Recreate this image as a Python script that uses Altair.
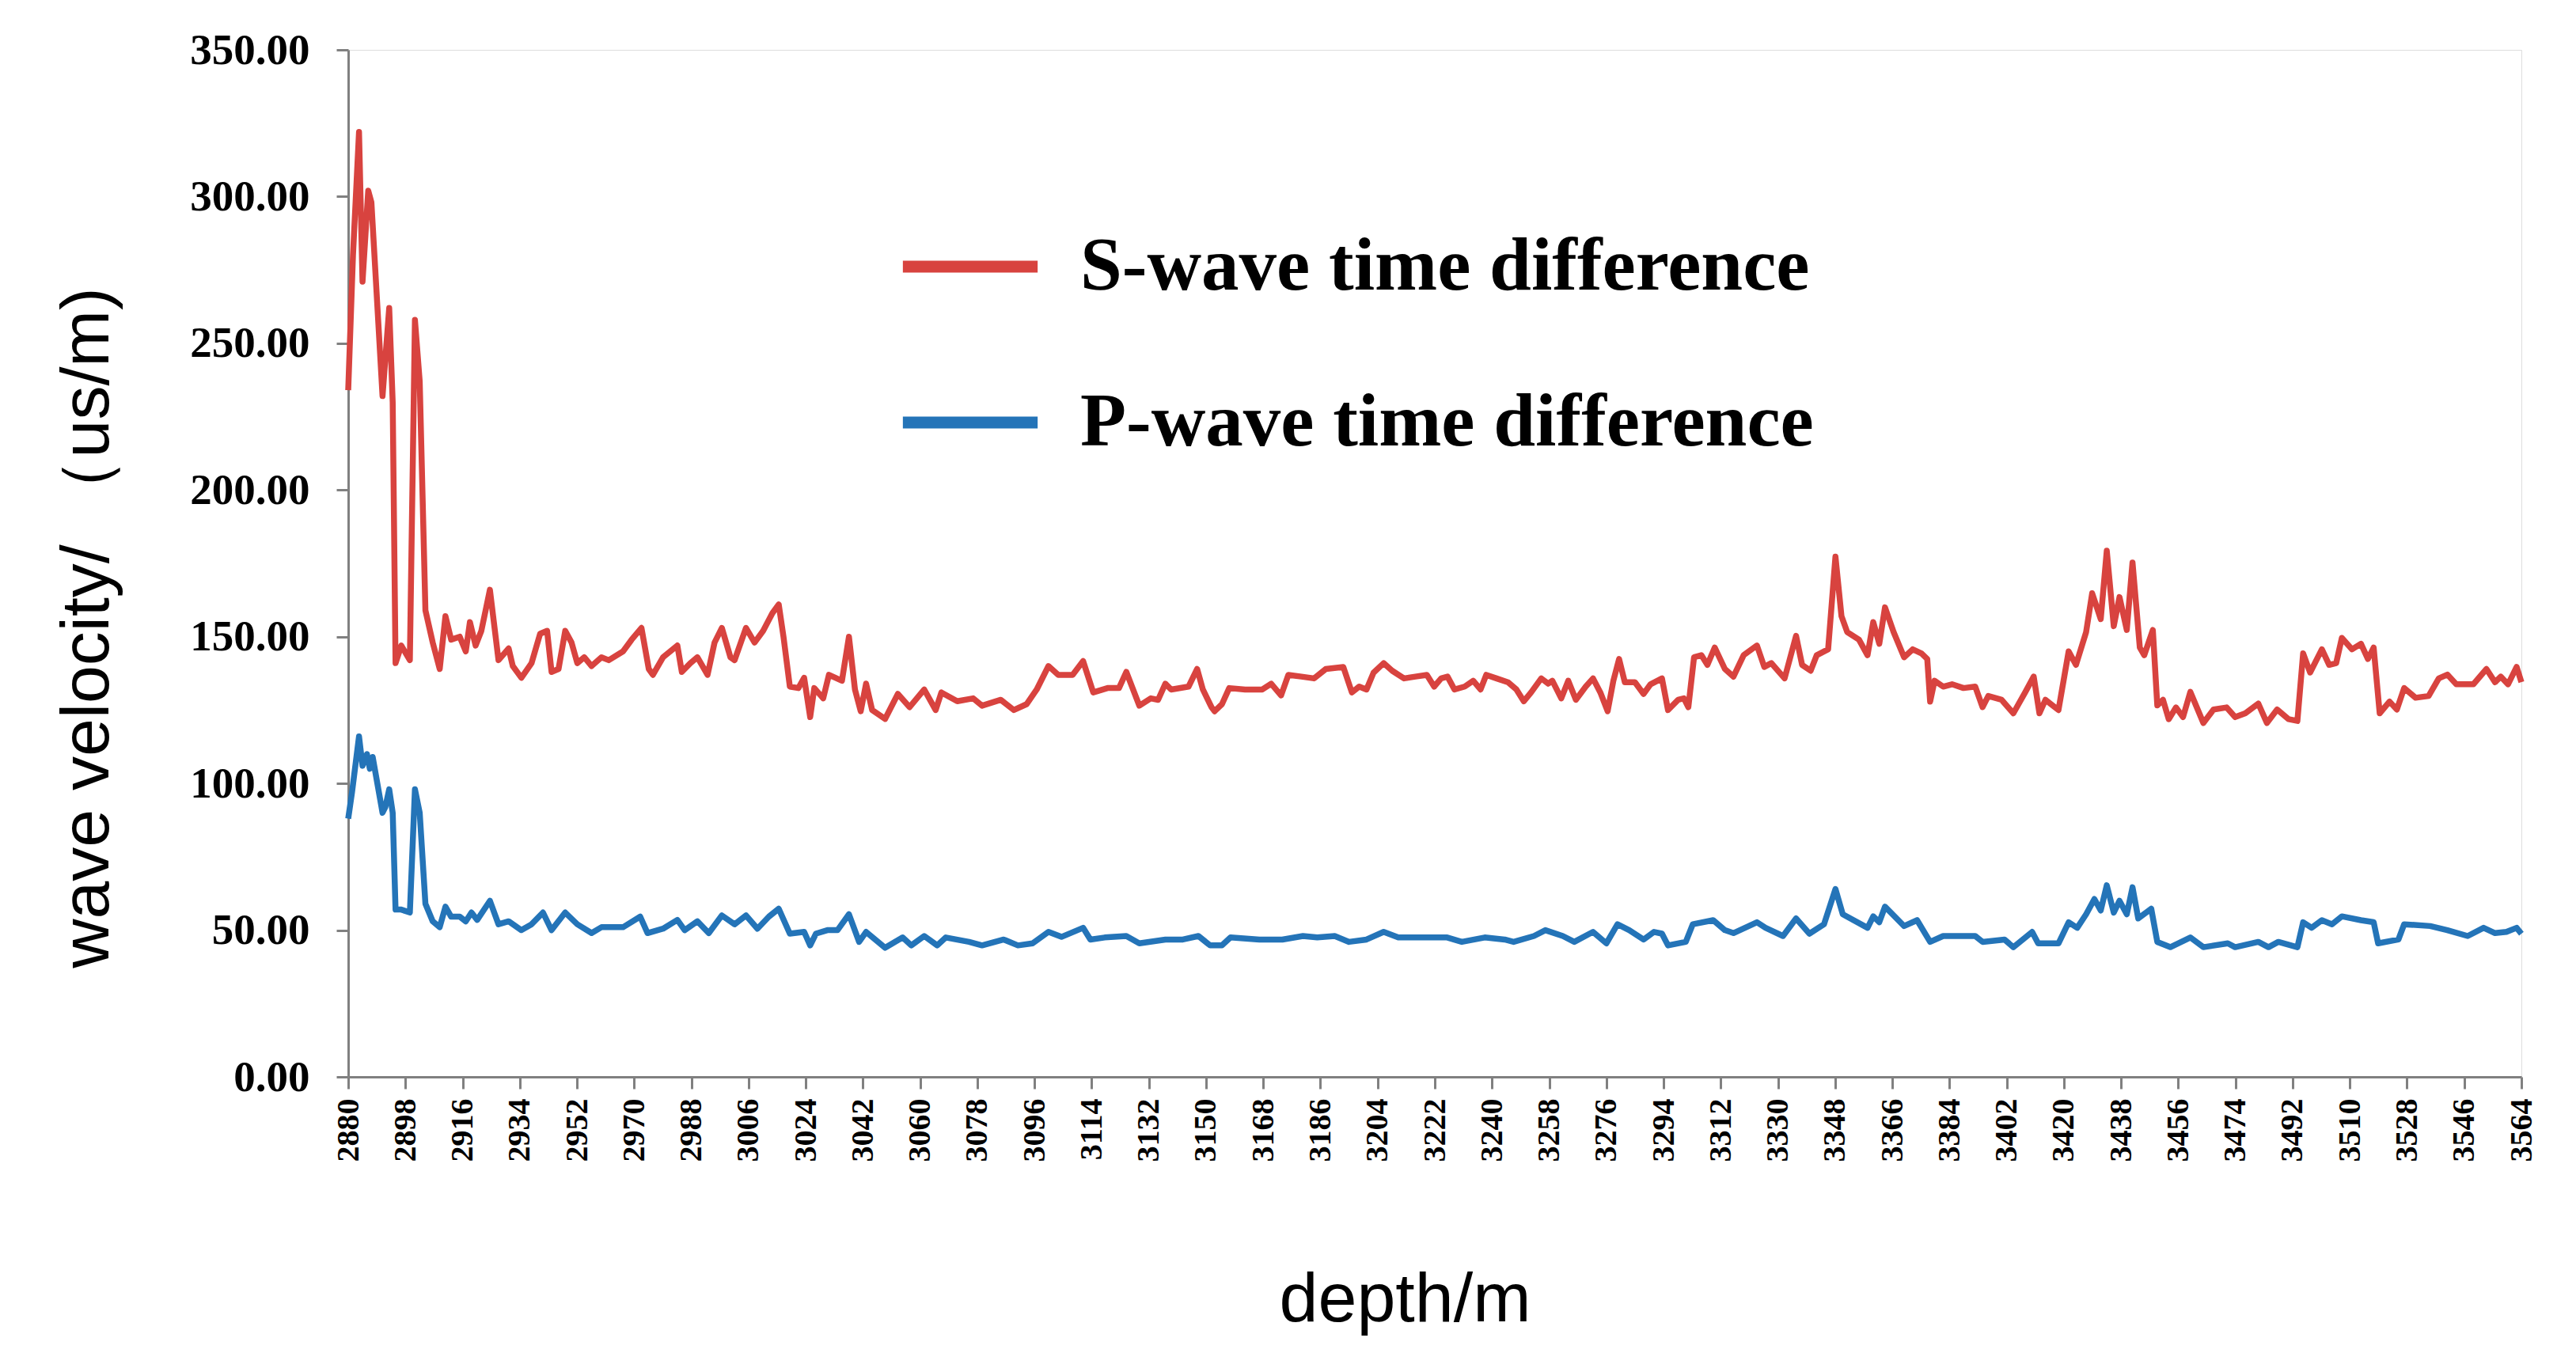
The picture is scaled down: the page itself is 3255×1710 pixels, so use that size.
import altair as alt
import pandas as pd

# S-wave time difference (us/m)
s_depth = [
    2880, 2881.5, 2883.4, 2884.5, 2886.3, 2887.3, 2890.8, 2892.9, 2894, 2894.9,
    2896.7, 2899.4, 2901, 2902.5, 2904.3, 2906.6, 2908.8, 2910.6, 2912.4, 2915.1,
    2917, 2918.3, 2920.1, 2921.9, 2924.6, 2927.3, 2930.5, 2931.8, 2934.5, 2937.7,
    2940.4, 2942.6, 2944, 2946.2, 2948.3, 2950.3, 2952.1, 2954.3, 2956.6, 2959.7,
    2962, 2966.5, 2969.2, 2972.3, 2974.6, 2975.9, 2979.1, 2983.6, 2985, 2987.7,
    2989.9, 2993.1, 2995.3, 2997.6, 3000.3, 3001.6, 3005.2, 3007.9, 3010.6, 3013.5,
    3015.5, 3017, 3019, 3021.7, 3023.5, 3025.4, 3026.7, 3029.5, 3031.3, 3035.4,
    3037.6, 3039.5, 3041.3, 3043, 3044.9, 3049, 3053, 3056.7, 3061.3, 3064.9,
    3066.7, 3071.7, 3076.7, 3079.5, 3085.4, 3089.5, 3093.5, 3096.7, 3100.4, 3103.5,
    3108, 3111.3, 3114.5, 3119, 3122.6, 3124.9, 3129, 3132.6, 3134.9, 3137.2,
    3139, 3144.5, 3147.2, 3149, 3151.7, 3152.7, 3155, 3157.3, 3162.3, 3167.7,
    3170.5, 3173.6, 3175.9, 3180, 3184, 3187.7, 3193.2, 3195.9, 3198.2, 3200.5,
    3202.7, 3205.9, 3208.6, 3212.3, 3215.9, 3219.5, 3221.8, 3224, 3226, 3228.2,
    3231.4, 3234.1, 3236.4, 3238.2, 3241.4, 3245, 3247.7, 3250, 3252.3, 3255.5,
    3257.7, 3259, 3261.8, 3264, 3266.4, 3269.5, 3271.8, 3274.1, 3276.4, 3278.2,
    3280, 3281.8, 3285, 3287.7, 3289.9, 3293.5, 3295.4, 3298.6, 3300.4, 3301.8,
    3303.6, 3305.9, 3307.8, 3310.1, 3313.3, 3316, 3319.2, 3323.4, 3325.7, 3327.9,
    3332.1, 3335.7, 3337.6, 3340.3, 3342.2, 3345.8, 3348.1, 3350, 3351.8, 3355.5,
    3358.2, 3360, 3361.9, 3363.7, 3366.4, 3369.7, 3372.4, 3375.2, 3377, 3377.9,
    3379.3, 3382, 3384.8, 3388.4, 3392.1, 3394.4, 3396.2, 3400.4, 3404.1, 3407.8,
    3410.5, 3412.3, 3414.2, 3418.3, 3421.5, 3423.8, 3427, 3428.9, 3431.6, 3433.5,
    3435.7, 3437.5, 3439.8, 3441.6, 3443.9, 3445.3, 3448, 3449.4, 3451.2, 3453,
    3455.3, 3457.5, 3459.8, 3463.9, 3467.1, 3471.2, 3473.9, 3477.1, 3481.2, 3483.9,
    3487.1, 3490.7, 3493.5, 3495.3, 3497.5, 3501.2, 3503.5, 3505.7, 3507.5, 3510.7,
    3513.5, 3515.7, 3517.5, 3519.4, 3522.5, 3524.8, 3527.1, 3530.7, 3534.8, 3538,
    3540.7, 3543.5, 3548.9, 3553, 3555.7, 3557.5, 3559.8, 3562.5, 3564,
]
s_value = [
    234, 280, 322, 271, 302, 298, 232, 262, 230, 141,
    147, 142, 258, 237, 159, 148, 139, 157, 149, 150,
    145, 155, 147, 152, 166, 142, 146, 140, 136, 141,
    151, 152, 138, 139, 152, 148, 141, 143, 140, 143,
    142, 145, 149, 153, 139, 137, 143, 147, 138, 141,
    143, 137, 148, 153, 143, 142, 153, 148, 152, 158,
    161, 150, 133, 132.5, 136, 122.6, 132.5, 129, 137, 135,
    150, 132, 124.6, 134, 125, 122, 130.5, 126, 132, 125,
    131, 128, 129, 126.5, 128.5, 125, 127, 132, 140, 137,
    137, 141.7, 131, 132.5, 132.5, 138, 126.5, 129, 128.5, 134,
    132, 133, 139, 132, 126, 124.6, 127, 132.5, 132, 132,
    134, 130, 137, 136.4, 135.8, 139, 139.7, 131, 133, 132,
    137.7, 141, 138.4, 135.8, 136.4, 137, 133, 135.8, 136.4, 132,
    133, 135, 132, 137, 135.8, 134.5, 132, 128, 131, 135.8,
    134, 135, 129, 135, 128.5, 133, 135.8, 131, 124.6, 135,
    142.4, 134.5, 134.5, 130.5, 133.8, 135.8, 125, 128.5, 129, 126,
    143, 143.7, 140.4, 146.3, 139, 136.4, 143.7, 147, 139.7, 141,
    135.8, 150.3, 140.4, 138.4, 143.7, 145.7, 177.3, 157, 151.6, 149,
    143.7, 155, 147.6, 160, 151.6, 143, 145.7, 144.3, 142.4, 127.9,
    135, 133, 133.8, 132.5, 133, 126, 129.8, 128.5, 123.9, 131,
    136.4, 123.9, 128.5, 125, 145, 140.4, 151.6, 164.8, 156, 179.3,
    153.6, 163.5, 152.3, 175.3, 146.3, 143.7, 152.3, 126.6, 128.5, 121.9,
    125.9, 122.6, 131.2, 120.6, 125.2, 125.9, 122.6, 123.9, 127.2, 120.6,
    125.2, 121.9, 121.3, 144.3, 137.8, 145.7, 140.4, 141, 149.6, 145.7,
    147.6, 142.4, 146.3, 123.9, 127.9, 125.2, 132.5, 129.2, 129.8, 135.8,
    137.1, 133.8, 133.8, 139, 134.5, 136.4, 133.8, 139.7, 134.5,
]

# P-wave time difference (us/m)
p_depth = [
    2880, 2881.2, 2883.4, 2884.5, 2885.9, 2886.8, 2887.7, 2890.8, 2891.7, 2892.9,
    2894, 2894.9, 2896.7, 2899.4, 2901, 2902.5, 2904.3, 2906.6, 2908.8, 2910.6,
    2912.4, 2915.1, 2917, 2918.8, 2920.6, 2924.6, 2927.3, 2930.5, 2934.5, 2937.7,
    2941.3, 2944, 2948.3, 2952.1, 2956.6, 2959.7, 2966.5, 2971.9, 2974.2, 2979.1,
    2983.6, 2985.9, 2989.9, 2993.5, 2997.6, 3001.6, 3005.2, 3008.8, 3012.4, 3015.5,
    3019, 3023.5, 3025.4, 3027.2, 3030.8, 3034, 3037.6, 3040.8, 3043, 3049,
    3054.5, 3057.2, 3061.3, 3065.4, 3068.1, 3075.4, 3079.5, 3086.3, 3090.8, 3095.4,
    3100.4, 3104.5, 3111.3, 3113.6, 3118.1, 3124.9, 3129, 3137.2, 3142.7, 3147.6,
    3151.3, 3155, 3157.7, 3166.8, 3174, 3180.5, 3185, 3190.5, 3195, 3200.5,
    3205.9, 3210.5, 3225.9, 3230.5, 3237.7, 3244, 3246.8, 3253.2, 3256.8, 3262.3,
    3265.9, 3271.8, 3276, 3279.5, 3283.2, 3287.7, 3291, 3293.5, 3295.4, 3301,
    3303.2, 3309.6, 3313.3, 3316, 3323.4, 3326.1, 3331.6, 3335.7, 3339.9, 3344.5,
    3348.1, 3350.4, 3358.2, 3360, 3361.9, 3363.7, 3369.7, 3373.8, 3377.9, 3382,
    3392.1, 3394.4, 3401.3, 3404.1, 3410, 3411.9, 3418.3, 3421.5, 3424.2, 3427,
    3429.6, 3431.6, 3433.5, 3435.7, 3437.5, 3439.8, 3441.6, 3443.4, 3447.5, 3449.4,
    3453.5, 3459.8, 3463.9, 3471.6, 3473.9, 3481.2, 3484.4, 3487.5, 3493.5, 3495.3,
    3498, 3501.2, 3504.4, 3507.5, 3513.5, 3517.5, 3518.9, 3525.3, 3527.1, 3535.3,
    3540.7, 3547.1, 3552.1, 3555.7, 3559.3, 3562.5, 3564,
]
p_value = [
    88, 97, 116, 106, 110, 105, 109, 90, 92, 98,
    90, 57, 57, 56, 98, 90, 59, 53, 51, 58,
    54.6, 54.6, 53, 56, 53.5, 60, 52, 53, 50, 52,
    56, 50, 56, 52, 49, 51, 51, 54.6, 49, 50.5,
    53.5, 50, 53, 49, 55, 52, 55, 50.5, 54.6, 57.3,
    48.8, 49.4, 44.8, 48.8, 50, 50, 55.4, 46, 49.4, 44,
    47.5, 44.8, 48, 44.8, 47.5, 46, 44.8, 46.8, 44.8, 45.5,
    49.4, 47.7, 50.8, 46.8, 47.5, 48, 45.5, 46.8, 46.8, 48,
    44.8, 44.8, 47.5, 46.8, 46.8, 48, 47.5, 48, 46, 46.8,
    49.4, 47.5, 47.5, 46, 47.5, 46.8, 46, 48, 50, 48,
    46, 49.4, 45.5, 52, 50, 46.8, 49.4, 48.8, 44.8, 46,
    52, 53.4, 50, 49, 52.7, 50.8, 48, 54, 48.8, 52,
    64, 55.4, 50.8, 54.7, 52.7, 58, 51.4, 53.4, 46, 48,
    48, 46, 46.8, 44.2, 49.4, 45.5, 45.5, 52.7, 50.8, 55.4,
    60.6, 56.7, 65.3, 56, 60, 55.4, 64.6, 54, 57.3, 46,
    44.2, 47.5, 44.2, 45.5, 44.2, 46, 44.2, 46, 44.2, 52.7,
    50.8, 53.4, 52, 54.7, 53.4, 52.7, 45.5, 46.8, 52, 51.4,
    50, 48, 50.8, 49, 49.4, 50.8, 48.8,
]

series_names = ["S-wave time difference", "P-wave time difference"]
series_colors = ["#D8433F", "#2474B8"]
x_ticks = list(range(2880, 3565, 18))
y_ticks = [0, 50, 100, 150, 200, 250, 300, 350]

rows = []
for d, v in zip(s_depth, s_value):
    rows.append({"depth": d, "value": v, "series": series_names[0]})
for d, v in zip(p_depth, p_value):
    rows.append({"depth": d, "value": v, "series": series_names[1]})
df = pd.DataFrame(rows)

axis_grey = "#808080"

chart = (
    alt.Chart(df)
    .mark_line(strokeWidth=7.5, strokeJoin="round")
    .encode(
        x=alt.X(
            "depth:Q",
            scale=alt.Scale(domain=[2880, 3564], nice=False, zero=False),
            axis=alt.Axis(
                values=x_ticks,
                format="d",
                labelAngle=270,
                labelFont="Liberation Serif",
                labelFontWeight="bold",
                labelFontSize=40,
                labelColor="black",
                labelPadding=12,
                labelFlush=False,
                labelOverlap=False,
                tickSize=15,
                tickWidth=3,
                tickColor=axis_grey,
                domainColor=axis_grey,
                domainWidth=3,
                grid=False,
                title="depth/m",
                titleFont="Liberation Sans",
                titleFontSize=88,
                titleFontWeight="normal",
                titleColor="black",
                titleX=1335,
                titleY=282,
                titleBaseline="middle",
            ),
        ),
        y=alt.Y(
            "value:Q",
            scale=alt.Scale(domain=[0, 350], nice=False),
            axis=alt.Axis(
                values=y_ticks,
                format=".2f",
                labelFont="Liberation Serif",
                labelFontWeight="bold",
                labelFontSize=55,
                labelColor="black",
                labelPadding=34,
                labelOverlap=False,
                tickSize=15,
                tickWidth=3,
                tickColor=axis_grey,
                domainColor=axis_grey,
                domainWidth=3,
                grid=False,
                title="wave velocity/ （us/m)",
                titleFont="Liberation Sans",
                titleFontSize=86,
                titleFontWeight="normal",
                titleColor="black",
                titleAngle=270,
                titleX=-304,
                titleY=730,
                titleAlign="center",
                titleBaseline="alphabetic",
            ),
        ),
        color=alt.Color(
            "series:N",
            scale=alt.Scale(domain=series_names, range=series_colors),
            legend=alt.Legend(
                title=None,
                orient="none",
                legendX=693,
                legendY=181,
                padding=0,
                symbolType="stroke",
                symbolSize=29000,
                symbolStrokeWidth=15,
                labelFont="Liberation Serif",
                labelFontWeight="bold",
                labelFontSize=95,
                labelColor="black",
                labelOffset=46,
                labelLimit=3000,
                rowPadding=56,
            ),
        ),
    )
    .properties(
        width=2746,
        height=1298,
        autosize=alt.AutoSizeParams(type="none"),
        padding={"left": 432, "top": 55, "right": 40, "bottom": 330},
    )
    .configure_view(stroke=None)
    .configure(background="white")
)

chart.save("out.html", embed_options={"renderer": "svg", "actions": False})
